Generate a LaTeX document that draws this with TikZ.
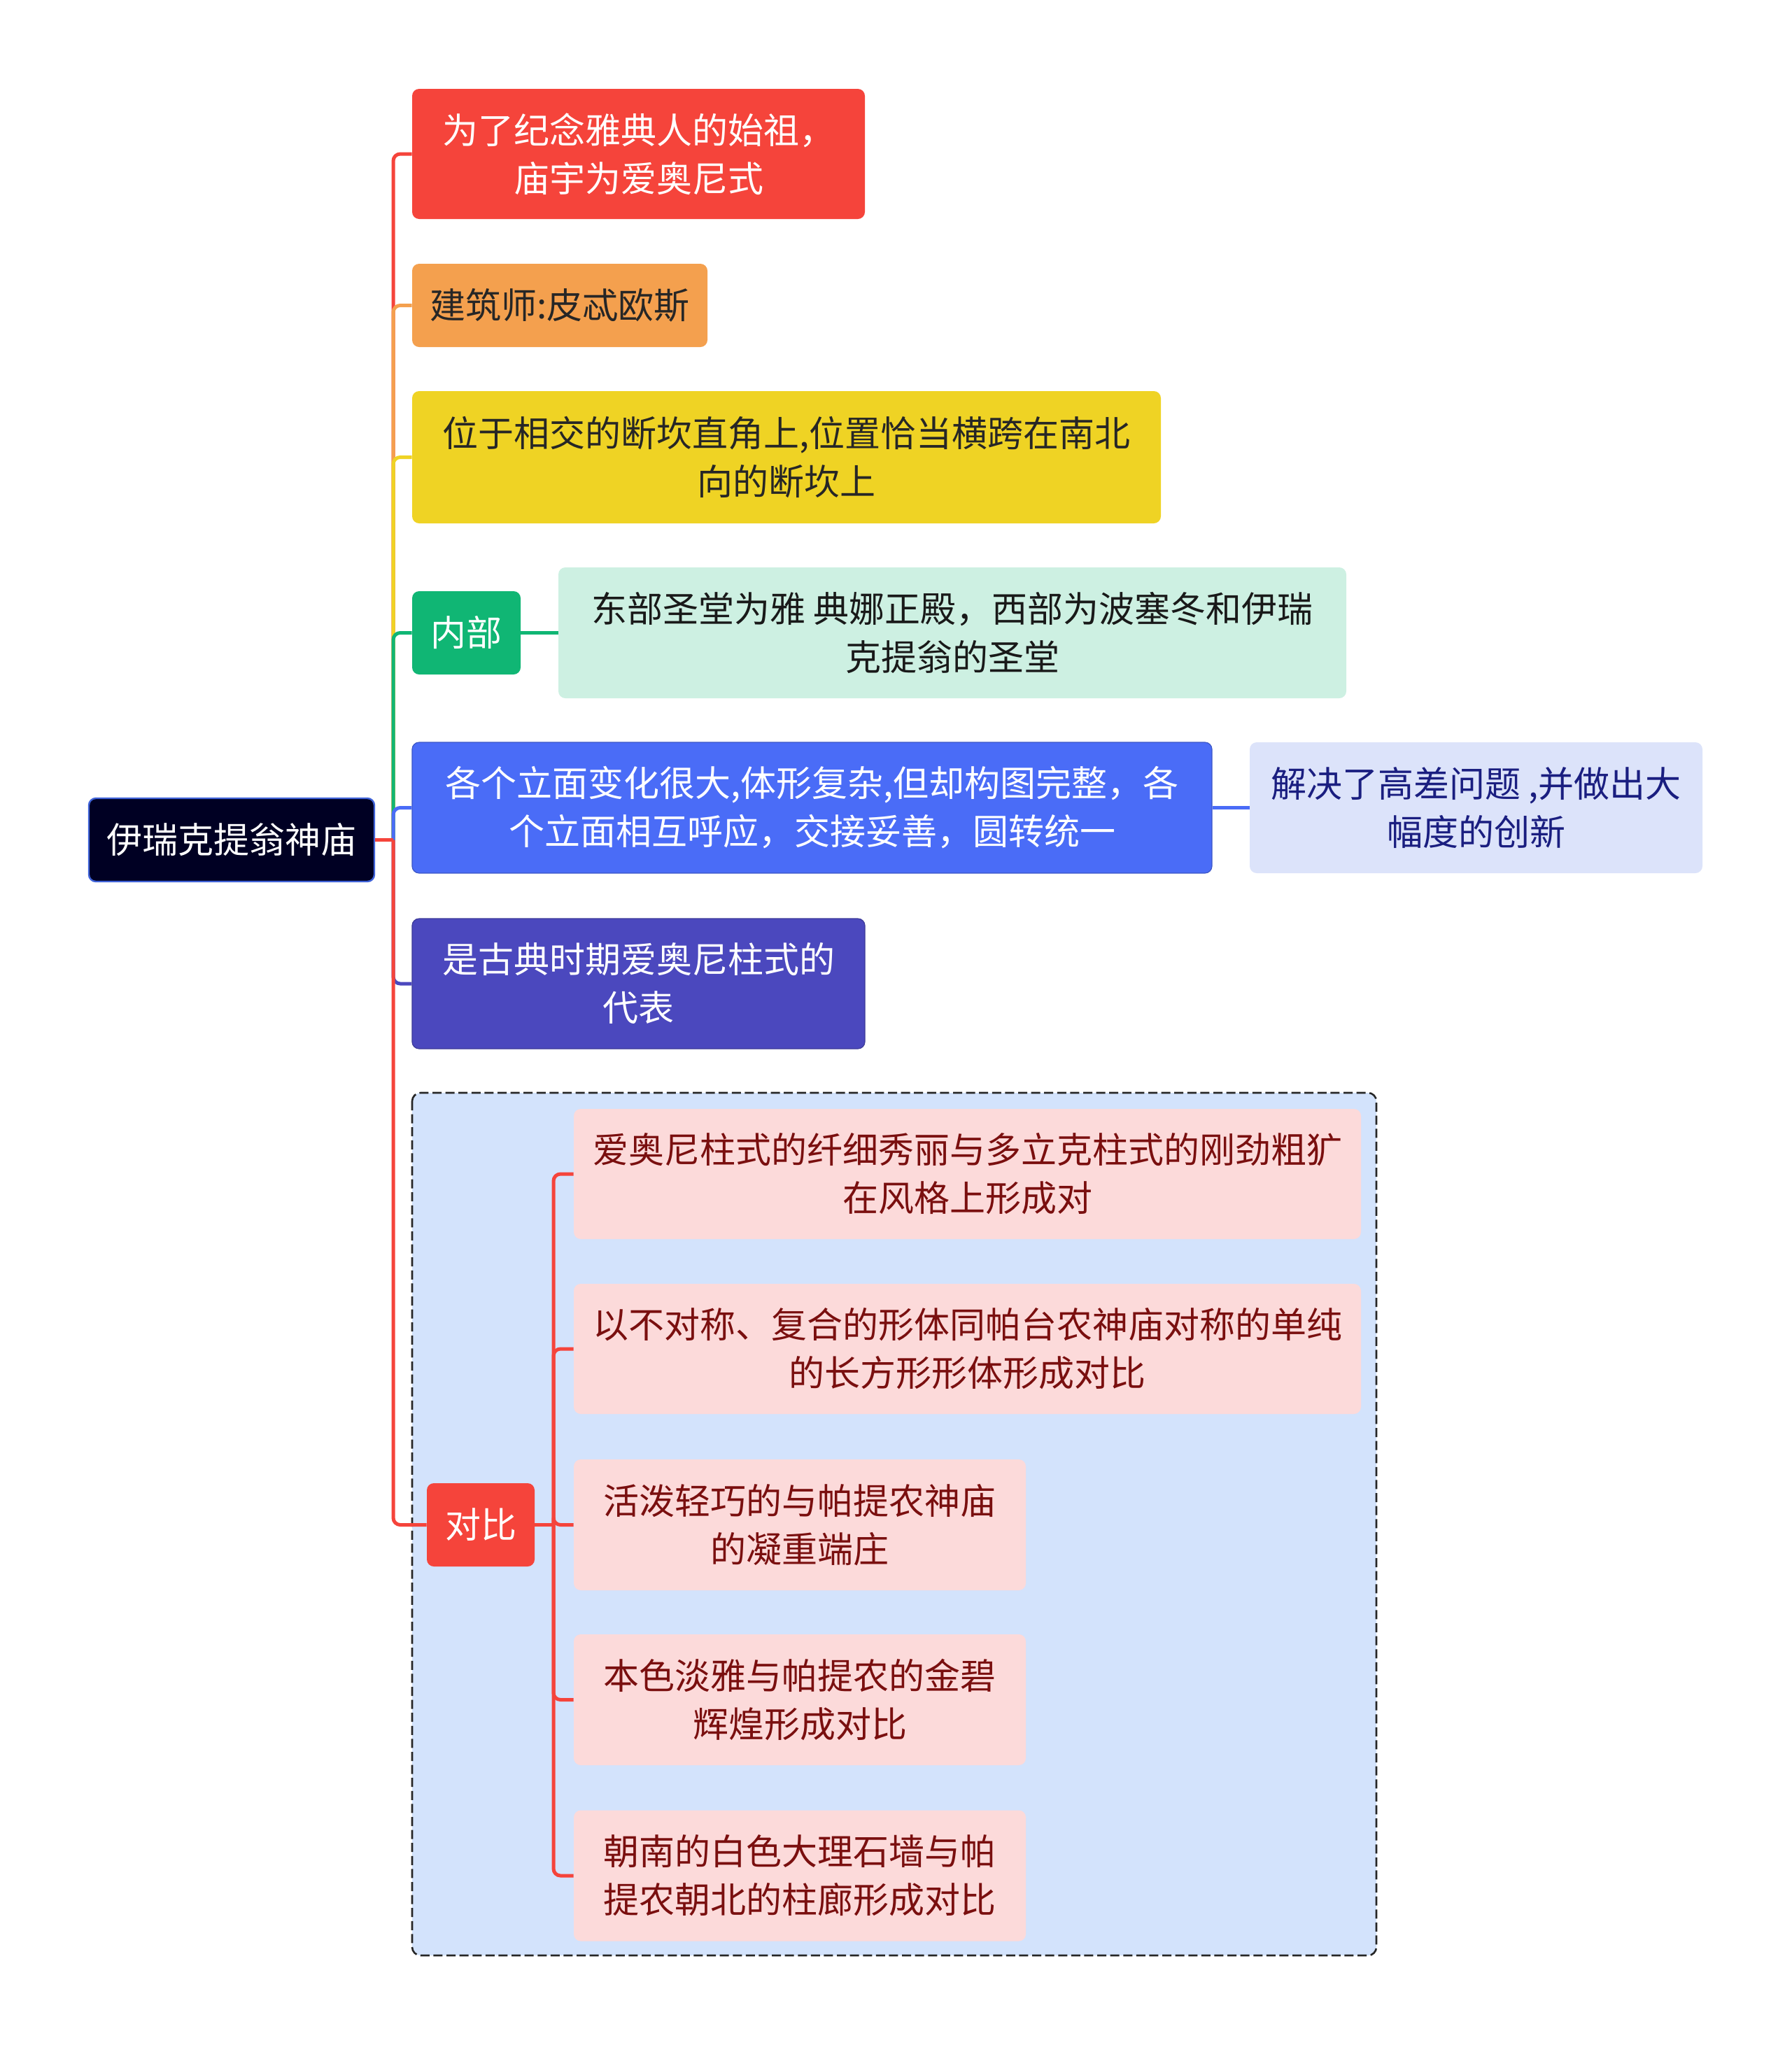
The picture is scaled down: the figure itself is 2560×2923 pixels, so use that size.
\documentclass[tikz,border=0pt]{standalone}
\usepackage{fontspec}
\setmainfont{Noto Sans CJK SC}
\definecolor{cred}{HTML}{F5443B}
\definecolor{corange}{HTML}{F4A04E}
\definecolor{cyellow}{HTML}{EFD324}
\definecolor{cgreen}{HTML}{10B674}
\definecolor{cgreenl}{HTML}{CDF0E2}
\definecolor{cblue}{HTML}{4A6CF7}
\definecolor{cbluel}{HTML}{DCE3FA}
\definecolor{cpurple}{HTML}{4B48BE}
\definecolor{croot}{HTML}{000023}
\definecolor{crootb}{HTML}{3F62D8}
\definecolor{cboxbg}{HTML}{D3E3FC}
\definecolor{cpink}{HTML}{FCDADA}
\definecolor{cdred}{HTML}{7A0F0F}
\definecolor{cnavy}{HTML}{1A1E80}
\definecolor{cdark}{HTML}{262626}
\tikzset{
  box/.style={rounded corners=5pt, inner sep=0pt, align=center,
    font=\fontsize{25.5pt}{34.5pt}\selectfont},
  branch/.style={line width=2.5pt, rounded corners=5pt},
}
\begin{document}
\begin{tikzpicture}[x=0.5pt,y=-0.5pt]
\useasboundingbox (0,0) rectangle (2560,2923);
% dashed group box
\draw[fill=cboxbg, draw=black!85, line width=1.3pt, dash pattern=on 6.5pt off 2.8pt, rounded corners=6pt] (589,1562) rectangle (1967,2795);

% nodes
\node[box, fill=croot, draw=crootb, line width=1.2pt, text=white, minimum width=204pt, minimum height=59.5pt] (root) at (331,1200.5) {伊瑞克提翁神庙};
\node[box, fill=cred, text=white, minimum width=323.5pt, minimum height=93pt] (n1) at (912.5,220) {为了纪念雅典人的始祖，\\庙宇为爱奥尼式};
\node[box, fill=corange, text=cdark, minimum width=211pt, minimum height=59.5pt] (n2) at (800,436.5) {建筑师:皮忒欧斯};
\node[box, fill=cyellow, text=cdark, minimum width=535pt, minimum height=94.5pt] (n3) at (1124,653.5) {位于相交的断坎直角上,位置恰当横跨在南北\\向的断坎上};
\node[box, fill=cgreen, text=white, minimum width=77.5pt, minimum height=59.5pt] (n4) at (666.5,904.5) {内部};
\node[box, fill=cgreenl, text=black!90, minimum width=563pt, minimum height=93.5pt] (n4c) at (1361,904.5) {东部圣堂为雅 典娜正殿，西部为波塞冬和伊瑞\\克提翁的圣堂};
\node[box, fill=cblue, draw=cblue!80!black, line width=0.6pt, text=white, minimum width=571.5pt, minimum height=93.5pt] (n5) at (1160.5,1154.5) {各个立面变化很大,体形复杂,但却构图完整，各\\个立面相互呼应，交接妥善，圆转统一};
\node[box, fill=cbluel, text=cnavy, minimum width=323.5pt, minimum height=93.5pt] (n5c) at (2109.5,1154.5) {解决了高差问题 ,并做出大\\幅度的创新};
\node[box, fill=cpurple, draw=cpurple!80!black, line width=0.6pt, text=white, minimum width=323.5pt, minimum height=93pt] (n6) at (912.5,1406) {是古典时期爱奥尼柱式的\\代表};
\node[box, fill=cred, text=white, minimum width=77pt, minimum height=59.5pt] (n7) at (687,2179.5) {对比};
\node[box, fill=cpink, text=cdred, minimum width=562.5pt, minimum height=93pt] (c1) at (1382.5,1678) {爱奥尼柱式的纤细秀丽与多立克柱式的刚劲粗犷\\在风格上形成对};
\node[box, fill=cpink, text=cdred, minimum width=562.5pt, minimum height=93pt] (c2) at (1382.5,1928) {以不对称、复合的形体同帕台农神庙对称的单纯\\的长方形形体形成对比};
\node[box, fill=cpink, text=cdred, minimum width=323pt, minimum height=93.5pt] (c3) at (1143,2179.5) {活泼轻巧的与帕提农神庙\\的凝重端庄};
\node[box, fill=cpink, text=cdred, minimum width=323pt, minimum height=93.5pt] (c4) at (1143,2429.5) {本色淡雅与帕提农的金碧\\辉煌形成对比};
\node[box, fill=cpink, text=cdred, minimum width=323pt, minimum height=93.5pt] (c5) at (1143,2681) {朝南的白色大理石墙与帕\\提农朝北的柱廊形成对比};

% connectors
\coordinate (sp) at (562,1200.5);
\coordinate (sp2) at (791,2179.5);
\draw[branch, cred] (sp) |- (n1.west);
\draw[branch, corange] (sp) |- (n2.west);
\draw[branch, cyellow] (sp) |- (n3.west);
\draw[branch, cgreen] (sp) |- (n4.west);
\draw[branch, cblue] (sp) |- (n5.west);
\draw[branch, cpurple] (sp) |- (n6.west);
\draw[branch, cred] (sp) |- (n7.west);
\draw[branch, cred] (root.east) -- (sp);
\draw[branch, cgreen] (n4.east) -- (n4c.west);
\draw[branch, cblue] (n5.east) -- (n5c.west);
\draw[branch, cred] (n7.east) -- (sp2);
\draw[branch, cred] (sp2) |- (c1.west);
\draw[branch, cred] (sp2) |- (c2.west);
\draw[branch, cred] (sp2) |- (c3.west);
\draw[branch, cred] (sp2) |- (c4.west);
\draw[branch, cred] (sp2) |- (c5.west);
\end{tikzpicture}
\end{document}
